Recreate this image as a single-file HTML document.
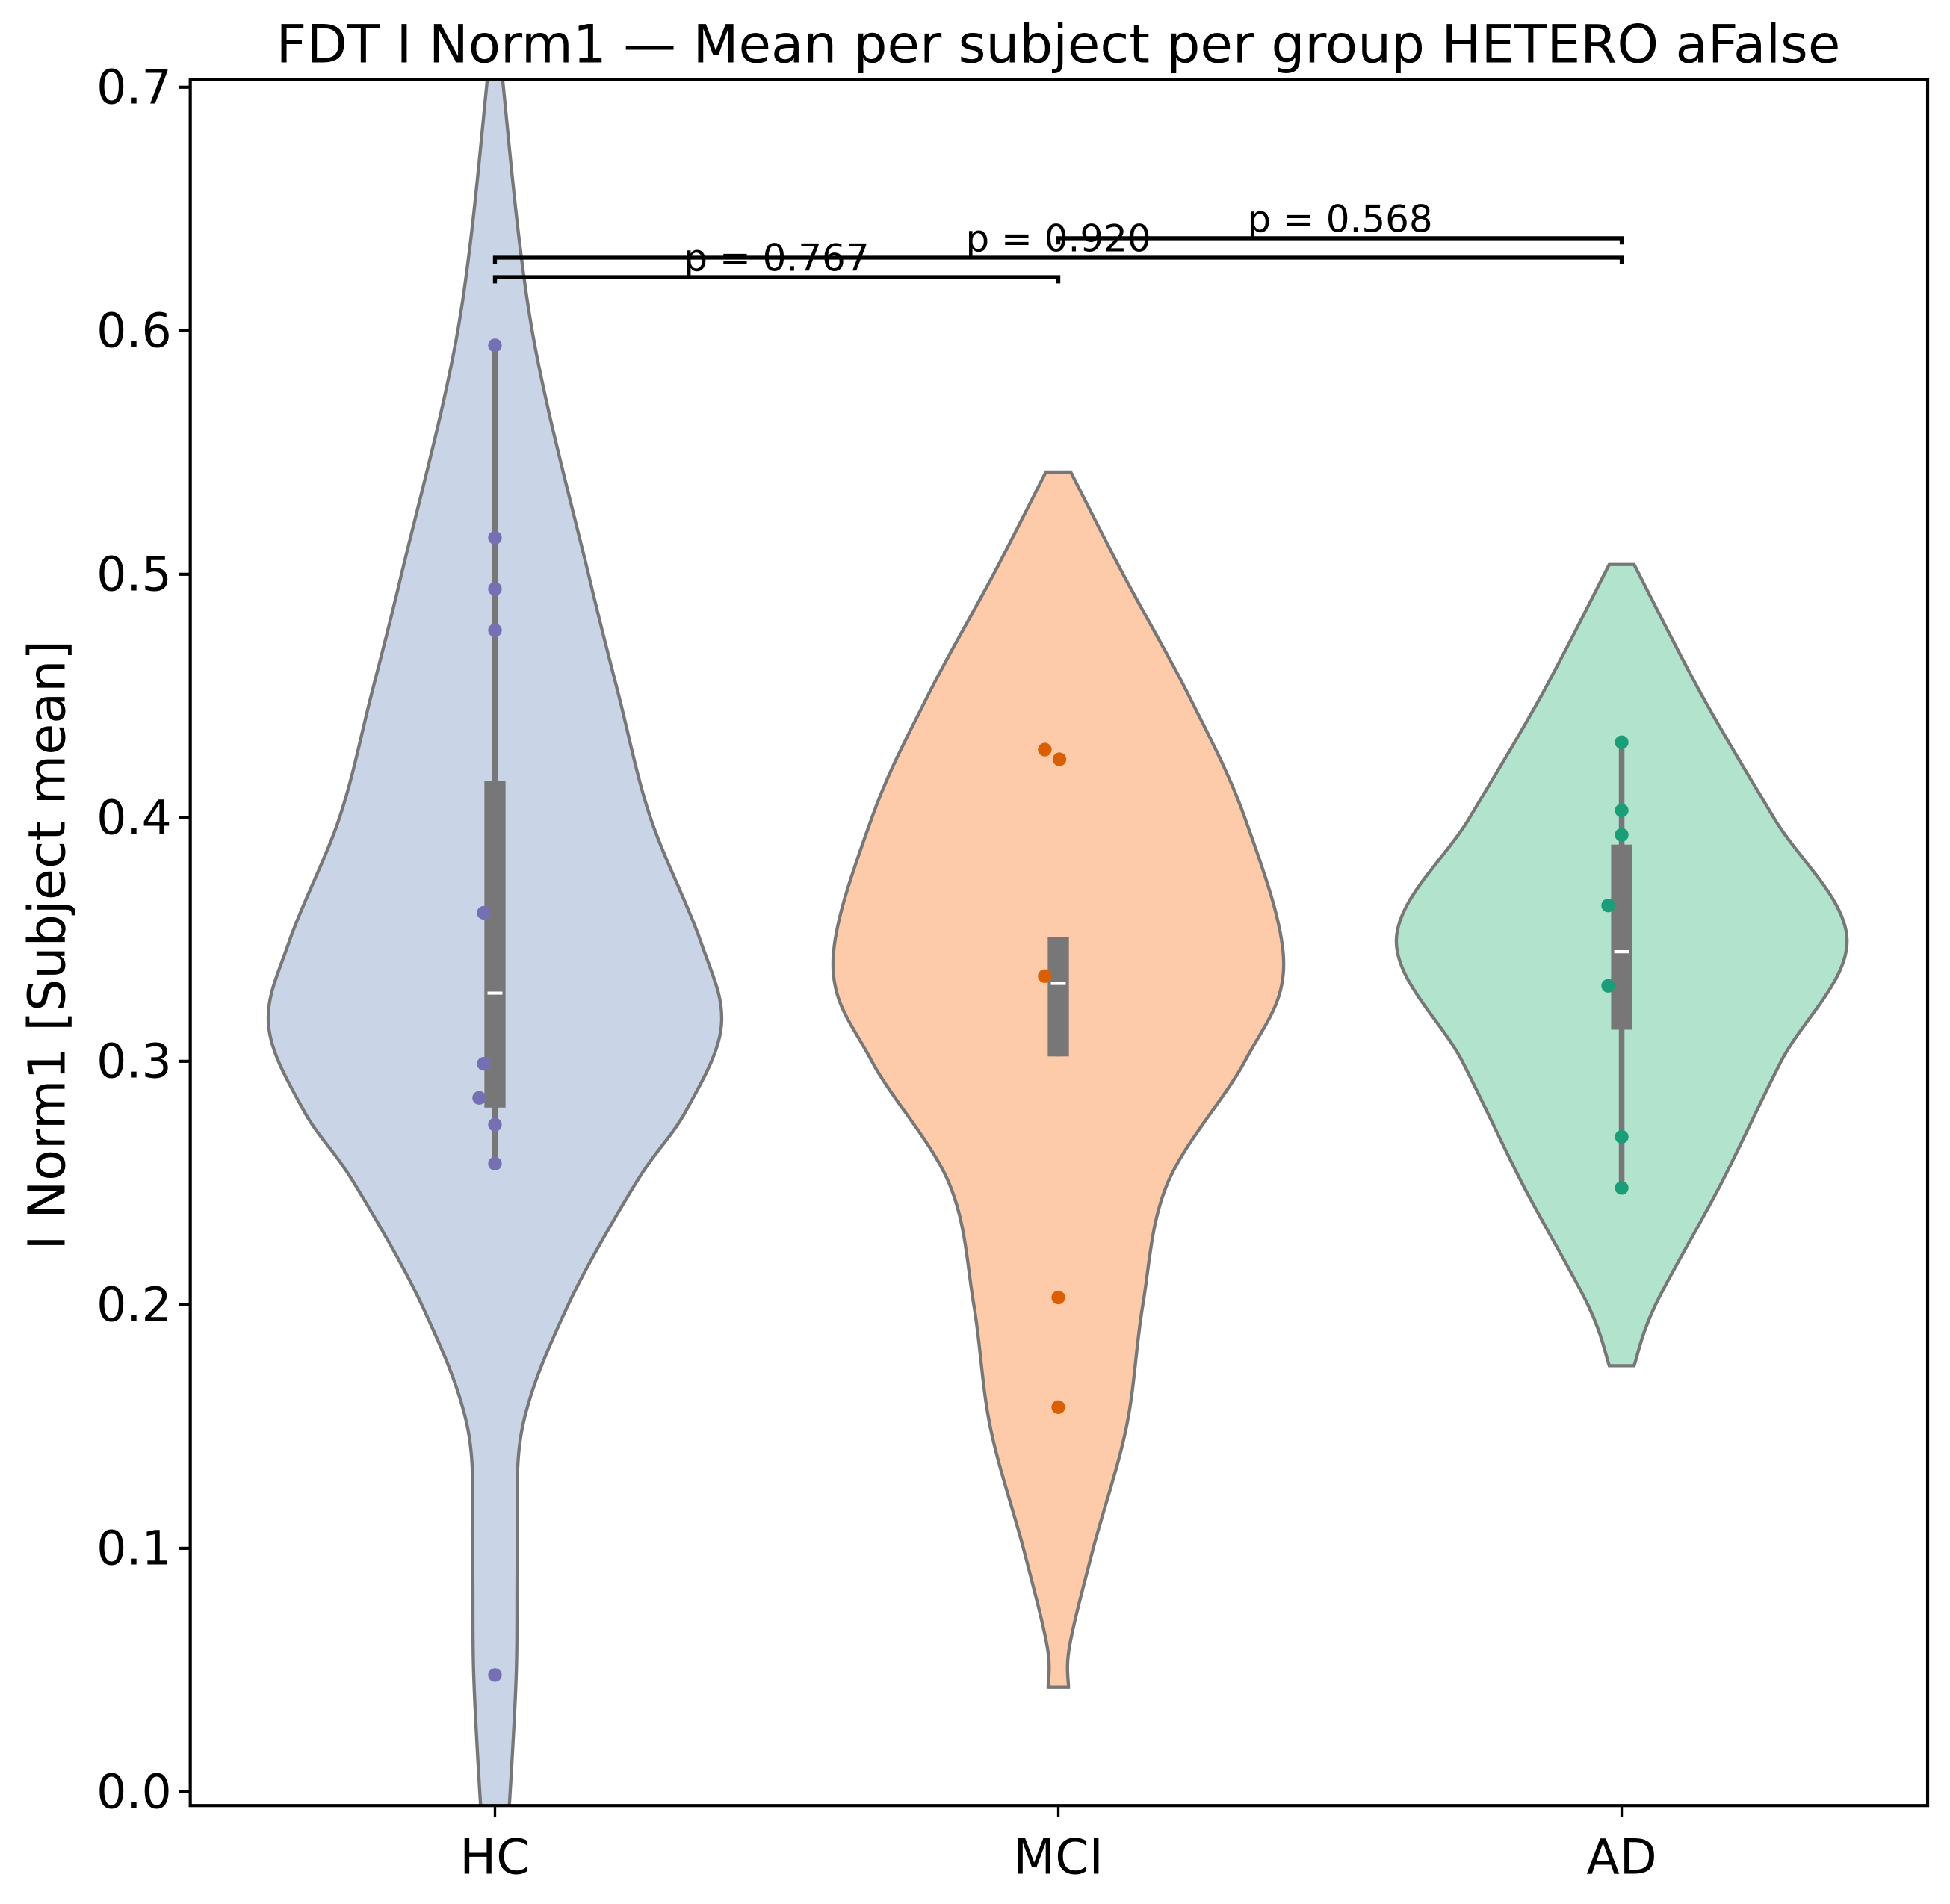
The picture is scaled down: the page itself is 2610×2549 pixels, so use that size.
<!DOCTYPE html>
<html><head><meta charset="utf-8"><style>
html,body{margin:0;padding:0;background:#fff}
svg{display:block;font-family:"DejaVu Sans","Liberation Sans",sans-serif}
</style></head><body>
<svg id="chart" width="2610" height="2549" viewBox="0 0 1568 1531" xmlns="http://www.w3.org/2000/svg">
<rect width="1568" height="1531" fill="#fff"/>
<text x="851" y="50" font-size="42.5" text-anchor="middle">FDT I Norm1 — Mean per subject per group HETERO aFalse</text>
<text transform="translate(52,760) rotate(-90)" font-size="41" text-anchor="middle">I Norm1 [Subject mean]</text>
<defs><clipPath id="plotclip"><rect x="153" y="64" width="1397" height="1388"/></clipPath></defs>
<g id="plot" clip-path="url(#plotclip)"></g>
<g id="axes"></g>
<rect x="153" y="64" width="1397" height="1388" fill="none" stroke="#000" stroke-width="2.5"/>
</svg>
<script>
const categories = ["HC","MCI","AD"];
const fills = ["#c9d4e7","#fdcbaa","#b2e3cd"];
const pointColors = ["#7570b3","#d95f02","#1b9e77"];
const hcVals = [0.725,0.7,0.6,0.5,0.45,0.4,0.35,0.315,0.28,0.25,0.2,0.15,0.1,0.05,0.0,-0.02];
const hcWid  = [0.01,0.015,0.066,0.166,0.22,0.276,0.364,0.402,0.34,0.25,0.13,0.049,0.04,0.038,0.027,0.02];
const mciVals = [0.542,0.5,0.45,0.4,0.34,0.3,0.25,0.2,0.15,0.1,0.06,0.043];
const mciWid  = [0.022,0.115,0.232,0.331,0.4,0.331,0.194,0.15,0.121,0.062,0.02,0.018];
const adVals = [0.504,0.45,0.4,0.35,0.3,0.25,0.2,0.175];
const adWid  = [0.022,0.143,0.27,0.4,0.283,0.177,0.06,0.022];
const boxQ1 = [0.281,0.302,0.313];
const boxQ3 = [0.415,0.351,0.389];
const medians = [0.328,0.332,0.345];
const whiskLo = [0.258,0.302,0.248];
const whiskHi = [0.594,0.351,0.431];
const hcPts = [0.594,0.515,0.494,0.477,0.361,0.299,0.285,0.274,0.258,0.048];
const hcJit = [0,0,0,0,-0.02,-0.02,-0.028,0,0,0];
const mciPts = [0.428,0.424,0.335,0.203,0.158];
const mciJit = [-0.024,0.002,-0.024,0,0];
const adPts = [0.431,0.403,0.393,0.364,0.331,0.269,0.248];
const adJit = [0,0,0,-0.024,-0.024,0,0];
const brackets = [[0,1,0.622,"p = 0.767"],[0,2,0.630,"p = 0.920"],[1,2,0.638,"p = 0.568"]];
const yTicks = [0.0,0.1,0.2,0.3,0.4,0.5,0.6,0.7];

const NS="http://www.w3.org/2000/svg";
const yS = v => 1441 - v*1958.6;
const xS = i => 398 + i*453;
const wS = w => w*453;
function mk(tag,attrs,parent){const e=document.createElementNS(NS,tag);for(const k in attrs)e.setAttribute(k,attrs[k]);parent.appendChild(e);return e;}
const plot=document.getElementById('plot'), axes=document.getElementById('axes');

function smooth(pts){
  let d=`M${pts[0][0]},${pts[0][1]}`;
  for(let i=0;i<pts.length-1;i++){
    const p0=pts[Math.max(0,i-1)],p1=pts[i],p2=pts[i+1],p3=pts[Math.min(pts.length-1,i+2)];
    d+=` C${p1[0]+(p2[0]-p0[0])/6},${p1[1]+(p2[1]-p0[1])/6} ${p2[0]-(p3[0]-p1[0])/6},${p2[1]-(p3[1]-p1[1])/6} ${p2[0]},${p2[1]}`;
  }
  return d;
}
const violins=[[hcVals,hcWid],[mciVals,mciWid],[adVals,adWid]];
violins.forEach(([vals,wid],i)=>{
  const cx=xS(i);
  const right=vals.map((v,k)=>[cx+wS(wid[k]),yS(v)]);
  const left=vals.map((v,k)=>[cx-wS(wid[k]),yS(v)]).reverse();
  let d=smooth(right)+" L"+left[0][0]+","+left[0][1]+smooth(left).replace(/^M[^C]*/,' ')+" Z";
  const p=mk('path',{d:d,fill:fills[i],stroke:'#777',"stroke-width":2.6},plot);
  
  
});
categories.forEach((c,i)=>{
  const cx=xS(i);
  const w=mk('line',{x1:cx,x2:cx,y1:yS(whiskLo[i]),y2:yS(whiskHi[i]),stroke:'#777',"stroke-width":4.5},plot);
  
  
  const b=mk('rect',{x:cx-8.5,y:yS(boxQ3[i]),width:17,height:yS(boxQ1[i])-yS(boxQ3[i]),fill:'#777'},plot);
  
  
  const m=mk('line',{x1:cx-6,x2:cx+6,y1:yS(medians[i]),y2:yS(medians[i]),stroke:'#fff',"stroke-width":2.5},plot);
  
  
});
[[hcPts,hcJit],[mciPts,mciJit],[adPts,adJit]].forEach(([pts,jit],i)=>{
  pts.forEach((v,k)=>{
    const c=mk('circle',{cx:xS(i)+wS(jit[k]),cy:yS(v),r:5.5,fill:pointColors[i]},plot);
    
    
  });
});
brackets.forEach(([a,b,v,t])=>{
  const y=yS(v),x1=xS(a),x2=xS(b);
  const p=mk('path',{d:`M${x1},${y+5} L${x1},${y} L${x2},${y} L${x2},${y+5}`,fill:'none',stroke:'#000',"stroke-width":3.2},plot);
  
  
  const tx=mk('text',{x:(x1+x2)/2,y:y-5,"font-size":30,"text-anchor":"middle"},plot);
  tx.textContent=t;
  
  
});
yTicks.forEach(v=>{
  const y=yS(v);
  const l=mk('line',{x1:144,x2:153,y1:y,y2:y,stroke:'#000',"stroke-width":2.5},axes);
  
  
  const t=mk('text',{x:138,y:y+13,"font-size":38,"text-anchor":"end"},axes);
  t.textContent=v.toFixed(1);
  
  
});
categories.forEach((c,i)=>{
  const x=xS(i);
  const l=mk('line',{x1:x,x2:x,y1:1452,y2:1461,stroke:'#000',"stroke-width":2},axes);
  
  
  const t=mk('text',{x:x,y:1507,"font-size":39,"text-anchor":"middle"},axes);
  t.textContent=c;
  
  
});
</script>
</body></html>
